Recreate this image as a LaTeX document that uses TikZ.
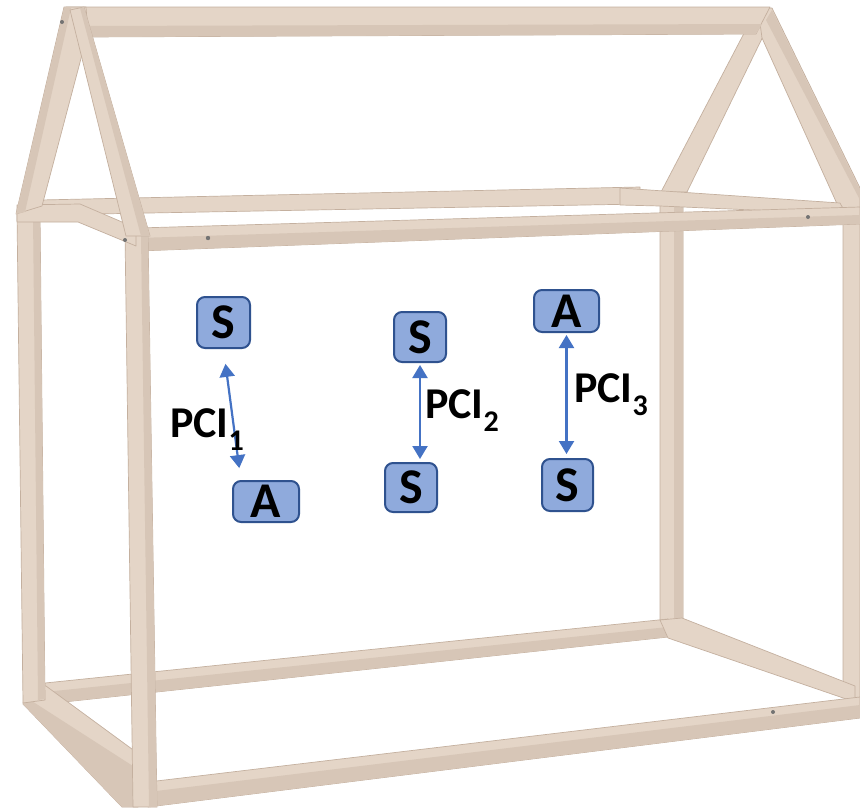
\documentclass[tikz,border=0pt]{standalone}
\usepackage{fontspec}
\setmainfont{Carlito}
\usetikzlibrary{arrows.meta,calc}
\definecolor{wood}{RGB}{228,213,199}
\definecolor{woodshade}{RGB}{215,198,183}
\definecolor{woodline}{RGB}{196,176,159}
\definecolor{boxfill}{RGB}{143,170,220}
\definecolor{boxline}{RGB}{47,82,143}
\definecolor{arrowblue}{RGB}{68,114,196}
\begin{document}
\begin{tikzpicture}[x=1pt,y=-1pt,
  beam/.style={fill=wood,draw=woodline,line width=0.7pt,line join=round},
  face/.style={fill=woodshade},
  screw/.style={fill=black!55},
  letterbox/.style={draw=boxline,fill=boxfill,line width=2pt,rounded corners=8pt,inner sep=0pt,
    font=\fontsize{50}{50}\selectfont\bfseries,text=black},
  link/.style={draw=arrowblue,line width=2.2pt,
    {Triangle[width=15pt,length=13pt]}-{Triangle[width=15pt,length=13pt]}},
  pcilabel/.style={anchor=base west,inner sep=0pt,font=\fontsize{44}{44}\selectfont\bfseries}
]
\fill[white] (0,0) rectangle (860,807);
\useasboundingbox (0,0) rectangle (860,807);

% ---------- back parts ----------
% back posts
\path[beam] (660,195) -- (683,195) -- (683,625) -- (660,622) -- cycle;
\path[face] (674,200) -- (683,200) -- (683,624) -- (674,623) -- cycle;
\path[beam] (843,205) -- (860,205) -- (860,700) -- (843,697) -- cycle;
% back gable rafters
\path[beam] (752,18) -- (772,18) -- (687,192) -- (661,192) -- cycle;
\path[beam] (758,8) -- (772,8) -- (860,188) -- (860,212) -- (838,206) -- (762,38) -- cycle;
\path[face] (766,20) -- (772,10) -- (860,190) -- (860,200) -- cycle;
% back eave rails
\path[beam] (40,200) -- (640,187) -- (640,204) -- (40,215) -- cycle;
\path[beam] (620,188) -- (840,203) -- (846,214) -- (660,206) -- (620,205) -- cycle;
% back bottom rails
\path[beam] (45,683) -- (668,619) -- (668,637) -- (45,704) -- cycle;
\path[face] (45,692) -- (668,627) -- (668,637) -- (45,704) -- cycle;
\path[beam] (660,620) -- (682,618) -- (855,686) -- (855,702) -- (668,638) -- cycle;
% ridge beam
\path[beam] (66,7) -- (770,7) -- (756,34) -- (85,37) -- cycle;
\path[face] (80,26) -- (762,24) -- (756,34) -- (85,37) -- cycle;

% ---------- front parts ----------
% front long eave rail
\path[beam] (138,228) -- (860,207) -- (860,224) -- (138,251) -- cycle;
\path[face] (138,238) -- (860,215) -- (860,224) -- (138,251) -- cycle;
% front long bottom rail
\path[beam] (148,782) -- (860,697) -- (860,718) -- (148,807) -- cycle;
\path[face] (148,792) -- (860,705) -- (860,718) -- (148,807) -- cycle;
% front short bottom rail
\path[beam] (26,688) -- (46,686) -- (136,752) -- (138,807) -- (122,807) -- (23,704) -- cycle;
\path[face] (24,696) -- (136,768) -- (138,807) -- (122,807) -- (23,704) -- cycle;
% front posts
\path[beam] (17,213) -- (40,213) -- (45,700) -- (23,703) -- cycle;
\path[face] (33,215) -- (40,215) -- (45,699) -- (38,700) -- cycle;
\path[beam] (125,233) -- (148,233) -- (157,807) -- (133,807) -- cycle;
\path[face] (141,236) -- (148,236) -- (157,807) -- (149,807) -- cycle;
% front short eave rail
\path[beam] (17,205) -- (80,204) -- (136,228) -- (136,246) -- (78,222) -- (17,222) -- cycle;
% front gable rafters
\path[beam] (64,7) -- (86,7) -- (88,32) -- (42,206) -- (16,214) -- cycle;
\path[face] (64,8) -- (71,8) -- (25,212) -- (16,214) -- cycle;
\path[beam] (70,10) -- (84,7) -- (150,236) -- (126,236) -- cycle;
\path[face] (80,8) -- (84,7) -- (150,236) -- (141,236) -- cycle;

% screws
\fill[screw] (62,22) circle (2);
\fill[screw] (125,240) circle (2);
\fill[screw] (208,238) circle (2.2);
\fill[screw] (808,217) circle (2);
\fill[screw] (773,712) circle (2);

% ---------- diagram ----------
\node[letterbox,minimum width=53pt,minimum height=51pt] (S1) at (223.5,322.5) {S};
\node[letterbox,minimum width=66pt,minimum height=41pt] (A1) at (266,501.5) {A};
\node[letterbox,minimum width=52pt,minimum height=50pt] (S2) at (420,337) {S};
\node[letterbox,minimum width=52pt,minimum height=49pt] (S3) at (411,487.5) {S};
\node[letterbox,minimum width=65pt,minimum height=42pt] (A3) at (566.5,311) {A};
\node[letterbox,minimum width=51pt,minimum height=52pt] (S4) at (567.5,485) {S};

\draw[link,shorten <=15pt,shorten >=12pt] (S1.south) -- ($(A1.north west)!0.26!(A1.north)$);
\draw[link,shorten <=2pt,shorten >=3pt] (S2.south) -- (S2.south |- S3.north);
\draw[link,shorten <=2pt,shorten >=4pt] (A3.south) -- (A3.south |- S4.north);

\node[pcilabel] (L1) at (170,437) {PCI\raisebox{-13pt}{\fontsize{30}{30}\selectfont 1}};
\node[pcilabel] (L2) at (425,418) {PCI\raisebox{-13pt}{\fontsize{30}{30}\selectfont 2}};
\node[pcilabel] (L3) at (574,402) {PCI\raisebox{-13pt}{\fontsize{30}{30}\selectfont 3}};
\end{tikzpicture}
\end{document}
